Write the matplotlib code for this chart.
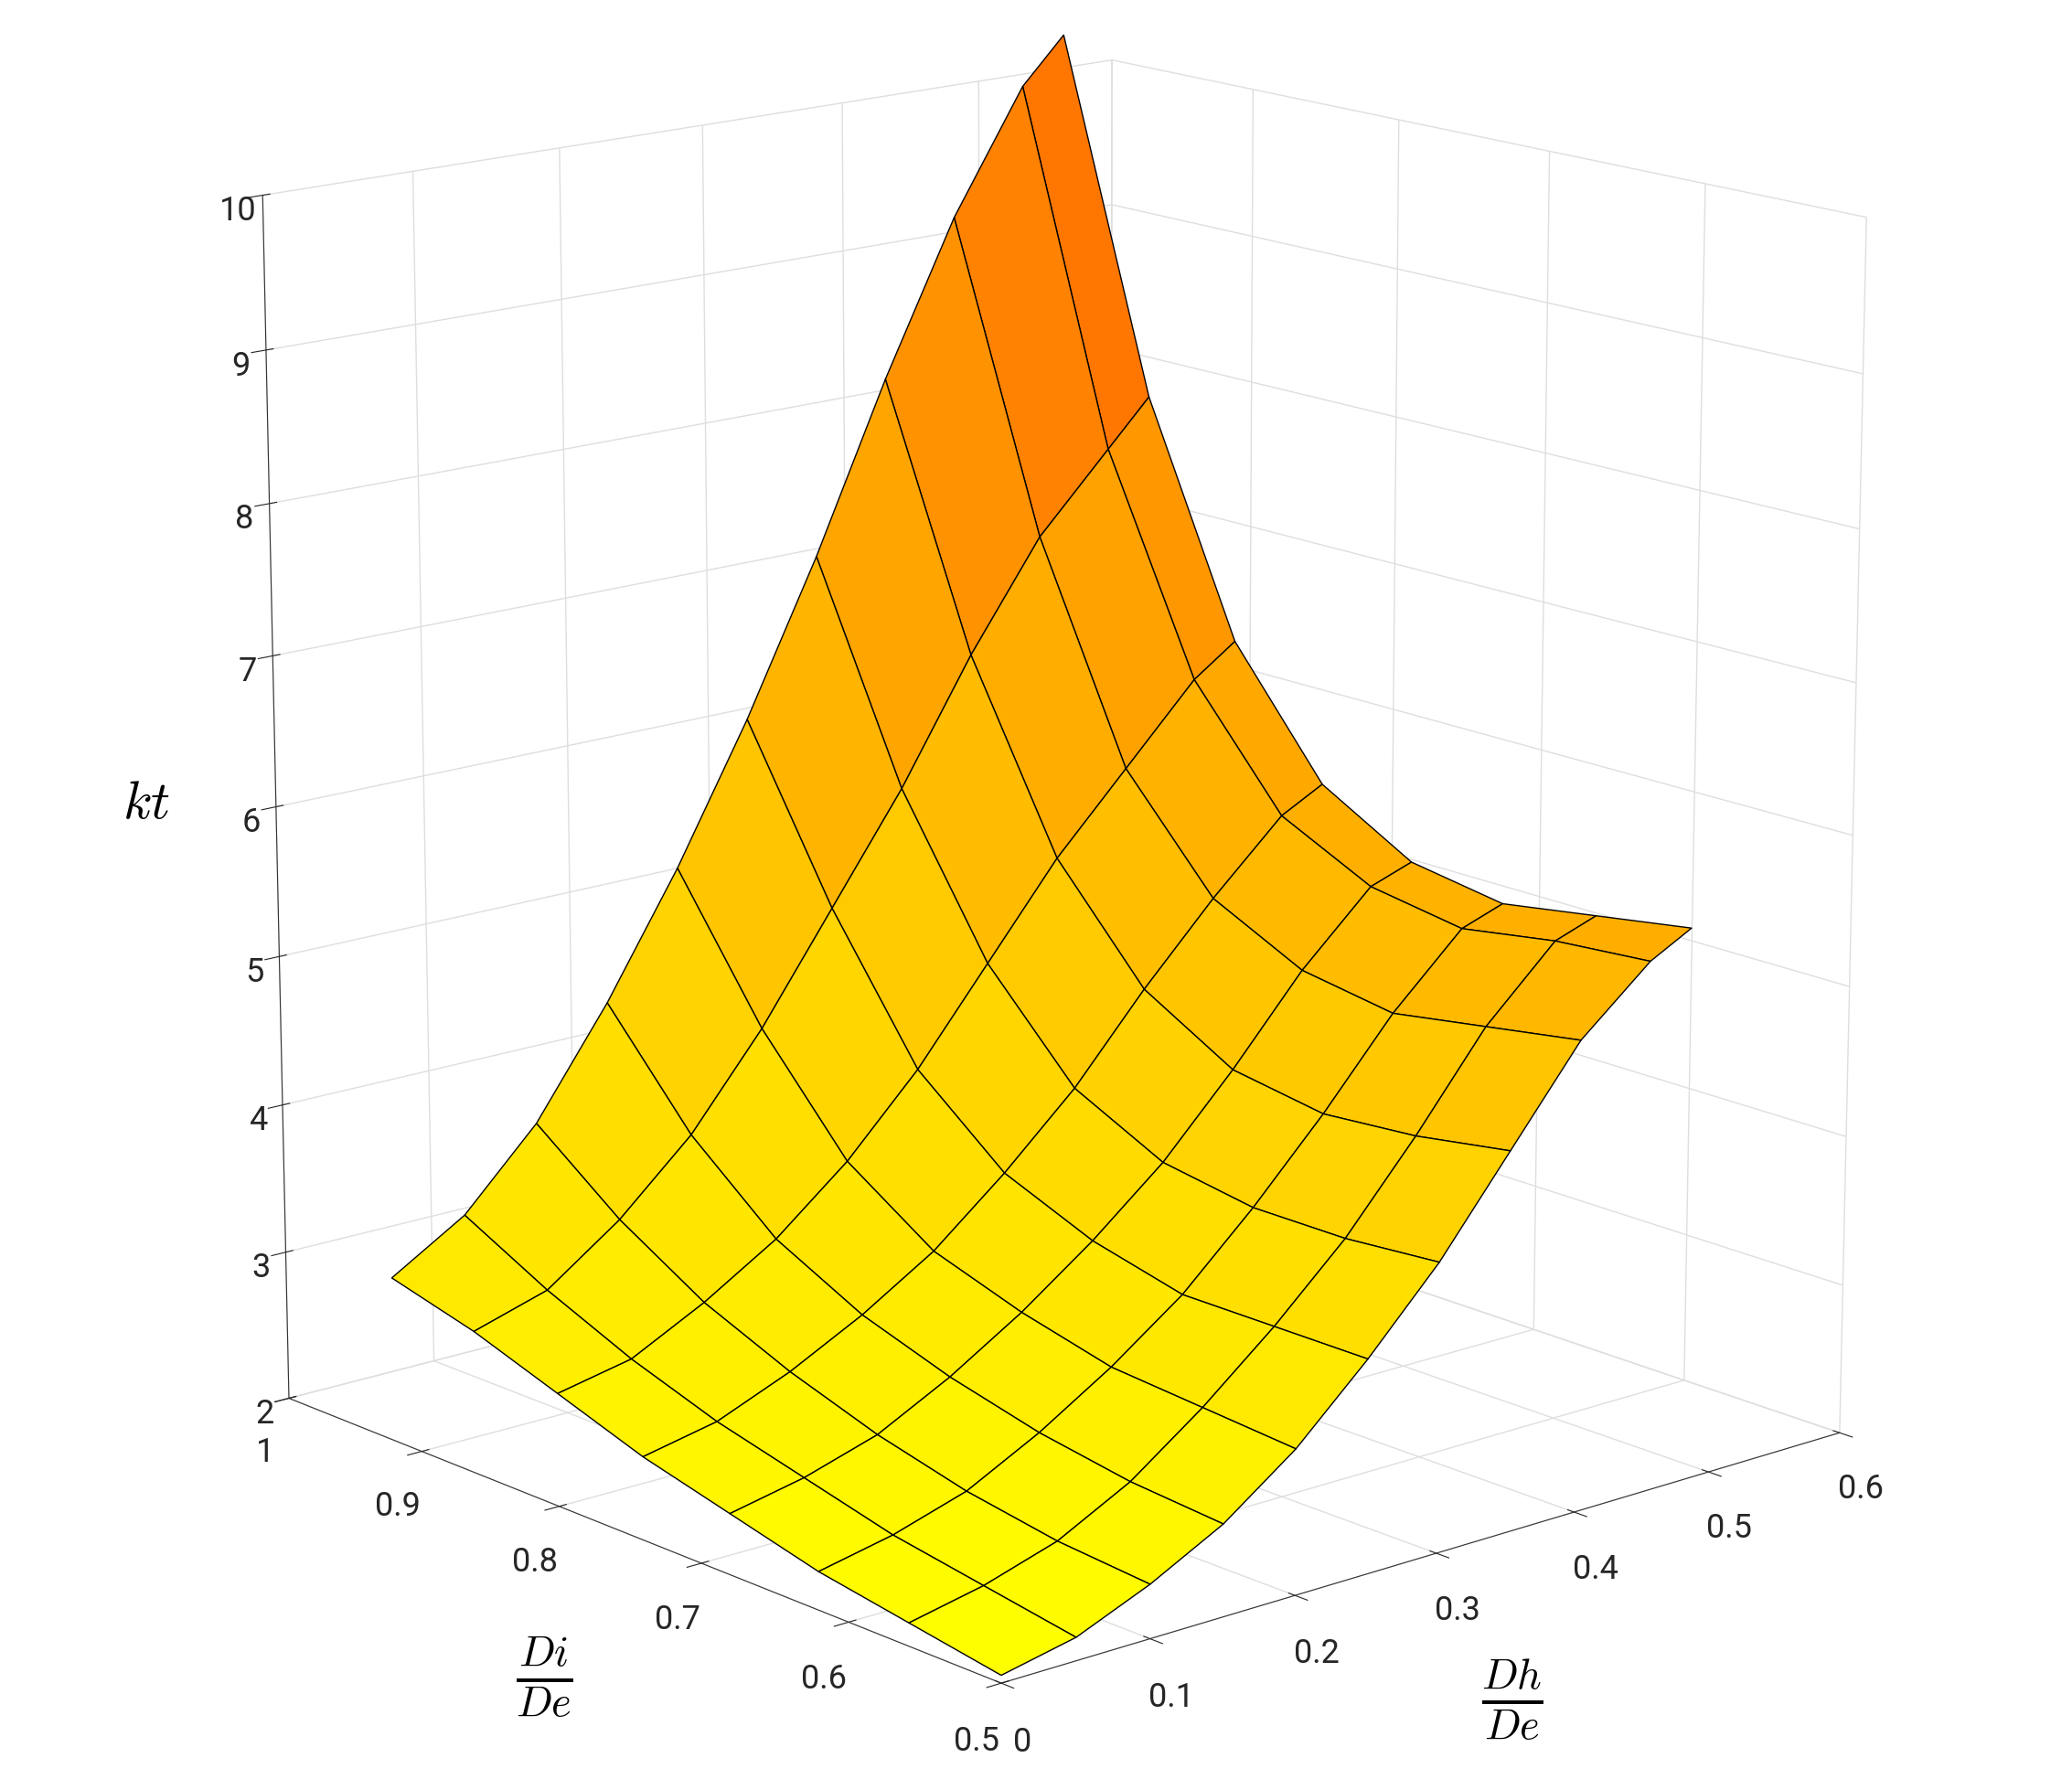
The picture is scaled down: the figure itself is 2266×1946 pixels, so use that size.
import numpy as np
import matplotlib
matplotlib.use("Agg")
import matplotlib.pyplot as plt
from matplotlib import cm, colors

plt.rcParams['mathtext.fontset'] = 'cm'
plt.rcParams['font.family'] = ['Roboto', 'DejaVu Sans']

di_values = [0.50, 0.56, 0.62, 0.68, 0.74, 0.80, 0.86, 0.92]
dh_values = [0.00, 0.05, 0.10, 0.15, 0.20, 0.25, 0.30, 0.35, 0.40, 0.45, 0.48]
kt_values = [
    [2.05, 2.15, 2.35, 2.60, 2.95, 3.40, 3.90, 4.50, 5.10, 5.50, 5.65],
    [2.15, 2.25, 2.40, 2.65, 3.00, 3.40, 3.85, 4.40, 5.00, 5.45, 5.55],
    [2.25, 2.35, 2.50, 2.75, 3.05, 3.40, 3.85, 4.35, 4.90, 5.35, 5.45],
    [2.40, 2.50, 2.65, 2.90, 3.20, 3.55, 3.95, 4.45, 5.00, 5.45, 5.55],
    [2.55, 2.65, 2.85, 3.10, 3.40, 3.80, 4.25, 4.80, 5.30, 5.75, 5.90],
    [2.75, 2.85, 3.10, 3.40, 3.80, 4.30, 4.90, 5.50, 6.00, 6.50, 6.70],
    [2.95, 3.10, 3.45, 3.90, 4.50, 5.20, 5.90, 6.70, 7.40, 7.90, 8.20],
    [3.10, 3.40, 3.90, 4.60, 5.40, 6.30, 7.30, 8.40, 9.40, 10.20, 10.50],
]
z_ticks = [2, 3, 4, 5, 6, 7, 8, 9, 10]
di_ticks = [0.5, 0.6, 0.7, 0.8, 0.9, 1.0]
dh_ticks = [0, 0.1, 0.2, 0.3, 0.4, 0.5, 0.6]

X, Y = np.meshgrid(dh_values, di_values)
Z = np.array(kt_values)

fig = plt.figure(figsize=(22.66, 19.46), dpi=100)
ax = fig.add_subplot(111, projection='3d')
ax.set_position([0.0, 0.025, 1.0, 1.0])
norm = colors.Normalize(vmin=2.0, vmax=13.0)
fc = cm.autumn_r(norm(Z))
ax.plot_surface(X, Y, Z, facecolors=fc, edgecolor='black', linewidth=1.0,
                shade=False, antialiased=True)
ax.view_init(elev=15, azim=-131)
ax.set_xlim(0, 0.6); ax.set_ylim(0.5, 1.0); ax.set_zlim(2, 10)
ax.set_xticks(dh_ticks); ax.set_yticks(di_ticks); ax.set_zticks(z_ticks)
ax.set_xticklabels(['0', '0.1', '0.2', '0.3', '0.4', '0.5', '0.6'])
ax.set_yticklabels(['0.5', '0.6', '0.7', '0.8', '0.9', '1'])
for a in (ax.xaxis, ax.yaxis, ax.zaxis):
    a.set_pane_color((1, 1, 1, 1))
    a._axinfo['grid']['color'] = (0.87, 0.87, 0.87, 1)
    a._axinfo['grid']['linewidth'] = 1.0
    a.line.set_color('#333333')
    a.set_rotate_label(False)
ax.tick_params(labelsize=26, colors='#262626')
ax.tick_params(axis='x', pad=12)
ax.tick_params(axis='y', pad=12)
ax.set_xlabel(r'$\frac{Dh}{De}$', fontsize=48, labelpad=50, rotation=0)
ax.set_ylabel(r'$\frac{Di}{De}$', fontsize=48, labelpad=50, rotation=0)
ax.set_zlabel(r'$kt$', fontsize=42, labelpad=40, rotation=0)
ax.set_box_aspect((1, 1, 1.12), zoom=1.1)
fig.savefig('out.png', dpi=100, facecolor='white')
